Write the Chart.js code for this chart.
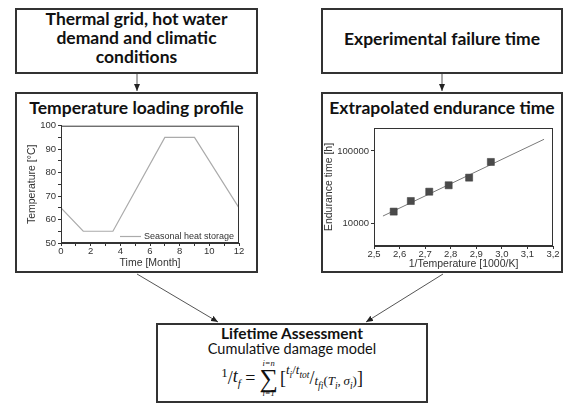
<!DOCTYPE html>
<html>
<head>
<meta charset="utf-8">
<script src="https://cdn.jsdelivr.net/npm/chart.js@4.4.0/dist/chart.umd.min.js"></script>
<style>
  body { margin: 0; width: 569px; height: 407px; background: #fff; position: relative; overflow: hidden; font-family: Lato, "Open Sans", sans-serif; color: #111; }
  .box { position: absolute; border: 2px solid #333; box-sizing: border-box; }
  .head { position: absolute; font-weight: bold; font-size: 17.5px; text-align: center; line-height: 19px; white-space: nowrap; }
  canvas { position: absolute; }
  #arrows { position: absolute; left: 0; top: 0; }
  #formula { position: absolute; left: 156px; width: 272px; top: 358px; height: 40px; display: flex; justify-content: center; align-items: center; font-family: "Liberation Serif", serif; font-size: 18px; white-space: nowrap; line-height: 1; }
  #formula i { font-style: italic; }
  .sum { display: inline-flex; flex-direction: column; align-items: center; margin: 0 2px 0 4px; }
  .sum .lim { font-size: 8.5px; font-style: italic; line-height: 9px; }
  .sum .sig { font-size: 26px; line-height: 21px; }
  .sup { font-size: 13px; position: relative; top: -6px; }
  .sub { font-size: 13px; position: relative; top: 5px; }
  .sup sub, .sub sub { font-size: 9.5px; }
</style>
</head>
<body>

<!-- boxes -->
<div class="box" style="left:15px; top:8px; width:243px; height:66px;"></div>
<div class="box" style="left:321px; top:8px; width:242px; height:66px;"></div>
<div class="box" style="left:15px; top:92px; width:243px; height:181px;"></div>
<div class="box" style="left:321px; top:92px; width:242px; height:181px;"></div>
<div class="box" style="left:156px; top:323px; width:272px; height:80px;"></div>

<div class="head" style="left:15px; width:243px; top:9px;">Thermal grid, hot water<br>demand and climatic<br>conditions</div>
<div class="head" style="left:321px; width:242px; top:29px;">Experimental failure time</div>
<div class="head" style="left:15px; width:243px; top:98px;">Temperature loading profile</div>
<div class="head" style="left:321px; width:242px; top:98px;">Extrapolated endurance time</div>

<div class="head" style="left:156px; width:272px; top:325px; font-size:15.5px; line-height:17px;">Lifetime Assessment</div>
<div class="head" style="left:156px; width:272px; top:340px; font-size:14.5px; line-height:17px; font-weight:normal;">Cumulative damage model</div>

<div id="formula">
  <span class="sup">1</span>/<i>t<sub style="font-size:11px">f</sub></i>&nbsp;=
  <span class="sum"><span class="lim">i=n</span><span class="sig">∑</span><span class="lim">i=1</span></span>[<span class="sup"><i>t<sub>i</sub></i>/<i>t<sub>tot</sub></i></span>/<span class="sub"><i>t<sub>fi</sub></i>(<i>T<sub>i</sub></i>,&thinsp;<i>σ<sub>i</sub></i>)</span>]
</div>

<svg id="arrows" width="569" height="407">
  <defs>
    <marker id="head" markerWidth="7" markerHeight="6" refX="7" refY="3" orient="auto" markerUnits="userSpaceOnUse">
      <path d="M0,0 L7,3 L0,6 Z" fill="#222"/>
    </marker>
  </defs>
  <g stroke="#555" stroke-width="1" fill="none">
    <line x1="137" y1="74" x2="137" y2="91" marker-end="url(#head)"/>
    <line x1="442" y1="74" x2="442" y2="91" marker-end="url(#head)"/>
    <line x1="137" y1="274" x2="218" y2="322" marker-end="url(#head)"/>
    <line x1="443" y1="274" x2="366" y2="322" marker-end="url(#head)"/>
  </g>
</svg>

<canvas id="Chart1" width="238" height="152" style="left:17px; top:118px;"></canvas>
<canvas id="Chart2" width="238" height="152" style="left:323px; top:118px;"></canvas>

<script>
// temperature loading profile
var months = [0, 1.5, 3.5, 7, 9, 12];
var temps = [65, 55, 55, 95, 95, 65];
var monthLabels = [0, 2, 4, 6, 8, 10, 12];
var tempLabels = [50, 60, 70, 80, 90, 100];

// endurance time vs 1/T
var invTemp = [2.577, 2.644, 2.716, 2.792, 2.872, 2.957];
var endurance = [14400, 20200, 27200, 33400, 42600, 70300];
var fitX = [2.535, 3.165];
var fitY = [12500, 145000];
var invTempLabels = [2.5, 2.6, 2.7, 2.8, 2.9, 3.0, 3.1, 3.2];
var enduranceLabels = [10000, 100000];

var axisColor = '#333';
var tickFont = { family: 'Liberation Sans', size: 9.5 };
var titleFont = { family: 'Liberation Sans', size: 10.5 };

// plot frame on all four sides, like the original
var frame = {
	id: 'frame',
	afterDraw: function(chart) {
		var a = chart.chartArea, ctx = chart.ctx;
		ctx.save();
		ctx.strokeStyle = axisColor;
		ctx.lineWidth = 1;
		ctx.strokeRect(a.left + 0.5, a.top + 0.5, a.right - a.left - 1, a.bottom - a.top - 1);
		ctx.restore();
	}
};

// small legend inside the plot, lower right
var legendInside = {
	id: 'legendInside',
	afterDraw: function(chart) {
		var a = chart.chartArea, ctx = chart.ctx;
		var ds = chart.data.datasets[0];
		var y = a.bottom - 6.5;
		ctx.save();
		ctx.strokeStyle = ds.borderColor;
		ctx.lineWidth = 1.2;
		ctx.beginPath();
		ctx.moveTo(a.right - 119, y);
		ctx.lineTo(a.right - 98, y);
		ctx.stroke();
		ctx.fillStyle = axisColor;
		ctx.font = '9px "Liberation Sans"';
		ctx.textBaseline = 'middle';
		ctx.fillText(ds.label, a.right - 95, y);
		ctx.restore();
	}
};

function gridOpts() {
	return { drawOnChartArea: false, drawTicks: true, tickLength: 3, color: axisColor, tickColor: axisColor };
}

var context = document.getElementById('Chart1').getContext('2d');
var myChart = new Chart(context, {
	type: 'scatter',
	data: {
		datasets: [{
			label: 'Seasonal heat storage',
			data: months.map(function(m, i) { return { x: m, y: temps[i] }; }),
			showLine: true,
			borderColor: '#ababab',
			borderWidth: 1.2,
			pointRadius: 0,
			tension: 0
		}]
	},
	options: {
		responsive: false,
		animation: false,
		layout: { padding: { top: 7, right: 16, left: 0, bottom: 0 } },
		plugins: { legend: { display: false }, tooltip: { enabled: false } },
		scales: {
			x: {
				type: 'linear', min: 0, max: 12,
				afterFit: function(s) { s.height = 27; },
				ticks: { stepSize: 1, autoSkip: false, maxRotation: 0, padding: 0, color: axisColor, font: tickFont,
					callback: function(v) { return monthLabels.indexOf(v) >= 0 ? v : ''; } },
				grid: gridOpts(),
				border: { color: axisColor },
				title: { display: true, text: 'Time [Month]', color: axisColor, font: titleFont, padding: { top: 0, bottom: 1 } }
			},
			y: {
				min: 50, max: 100,
				afterFit: function(s) { s.width = 44; },
				ticks: { stepSize: 5, autoSkip: false, padding: 2, color: axisColor, font: tickFont,
					callback: function(v) { return tempLabels.indexOf(v) >= 0 ? v : ''; } },
				grid: gridOpts(),
				border: { color: axisColor },
				title: { display: true, text: 'Temperature [°C]', color: axisColor, font: titleFont, padding: { top: 9, bottom: 0 } }
			}
		}
	},
	plugins: [frame, legendInside]
});

var context2 = document.getElementById('Chart2').getContext('2d');
var myChart2 = new Chart(context2, {
	type: 'scatter',
	data: {
		datasets: [{
			label: 'Endurance time',
			data: invTemp.map(function(x, i) { return { x: x, y: endurance[i] }; }),
			pointStyle: 'rect',
			pointRadius: 5,
			backgroundColor: '#4a4a4a',
			borderColor: '#3a3a3a',
			borderWidth: 0.5,
			order: 1
		}, {
			label: 'Fit',
			type: 'line',
			data: fitX.map(function(x, i) { return { x: x, y: fitY[i] }; }),
			borderColor: '#7a7a7a',
			borderWidth: 1,
			pointRadius: 0,
			order: 2
		}]
	},
	options: {
		responsive: false,
		animation: false,
		layout: { padding: { top: 10, right: 8, left: 0, bottom: 0 } },
		plugins: { legend: { display: false }, tooltip: { enabled: false } },
		scales: {
			x: {
				type: 'linear', min: 2.5, max: 3.2,
				afterFit: function(s) { s.height = 24; },
				afterBuildTicks: function(s) { s.ticks = invTempLabels.map(function(v) { return { value: v }; }); },
				ticks: { autoSkip: false, maxRotation: 0, padding: 0, color: axisColor, font: tickFont,
					callback: function(v) { return v.toFixed(1).replace('.', ','); } },
				grid: gridOpts(),
				border: { color: axisColor },
				title: { display: true, text: '1/Temperature [1000/K]', color: axisColor, font: titleFont, padding: { top: 0, bottom: 0 } }
			},
			y: {
				type: 'logarithmic', min: 4800, max: 208000,
				afterFit: function(s) { s.width = 51; },
				afterBuildTicks: function(s) { s.ticks = enduranceLabels.map(function(v) { return { value: v }; }); },
				ticks: { autoSkip: false, padding: 2, color: axisColor, font: tickFont,
					callback: function(v) { return String(v); } },
				grid: gridOpts(),
				border: { color: axisColor },
				title: { display: true, text: 'Endurance time [h]', color: axisColor, font: titleFont, padding: { top: 0, bottom: 0 } }
			}
		}
	},
	plugins: [frame]
});
</script>
</body>
</html>
